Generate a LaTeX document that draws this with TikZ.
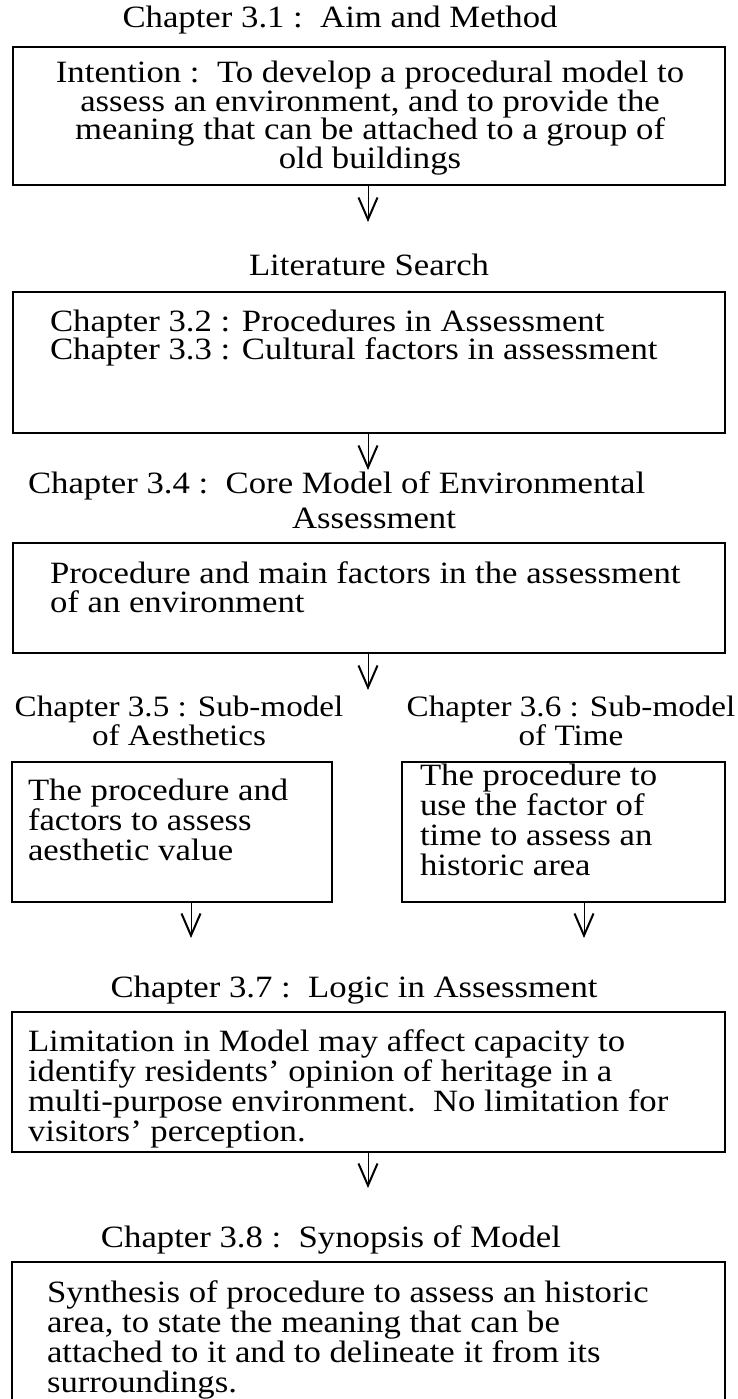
\documentclass[tikz,border=0pt]{standalone}
\usepackage{fontspec}
\setmainfont{Liberation Serif}[FakeStretch=1.12]
\usetikzlibrary{arrows.meta,calc}
\begin{document}
\begin{tikzpicture}[x=1pt,y=-1pt,
  every node/.style={inner sep=0pt, outer sep=0pt, font=\fontsize{31}{29.5}\selectfont},
  box/.style={draw, line width=1.5pt, anchor=north west},
  title/.style={anchor=base, align=center},
  subtitle/.style={anchor=base, align=center, font=\fontsize{29.6}{29.5}\selectfont},
  body/.style={anchor=base west, align=left},
  conn/.style={line width=1pt, -{Straight Barb[length=22pt,width=19pt,line width=2pt]}}]
\useasboundingbox (0,0) rectangle (737,1399);
\clip (0,0) rectangle (737,1399);
% titles (anchor = baseline of last line)
\node[title] (h1) at (340,28) {Chapter 3.1 :\ \ Aim and Method};
\node[title] (h2) at (369,275) {Literature Search};
\node[body] (h3) at (28,528) {Chapter 3.4 :\ \ Core Model of Environmental\\[5.5pt]\hspace*{264pt}Assessment};
\node[subtitle] (h4) at (179,745) {Chapter 3.5 : Sub-model\\[-1pt]of Aesthetics};
\node[subtitle] (h5) at (571,745) {Chapter 3.6 : Sub-model\\[-1pt]of Time};
\node[title] (h6) at (354,997) {Chapter 3.7 :\ \ Logic in Assessment};
\node[title] (h7) at (331,1247) {Chapter 3.8 :\ \ Synopsis of Model};
% boxes
\node[box, minimum width=712pt, minimum height=138pt] (b1) at (13,47) {};
\node[box, minimum width=712pt, minimum height=141pt] (b2) at (13,292) {};
\node[box, minimum width=712pt, minimum height=110pt] (b3) at (13,543) {};
\node[box, minimum width=320pt, minimum height=140pt] (b4) at (12,762) {};
\node[box, minimum width=323pt, minimum height=140pt] (b5) at (402,762) {};
\node[box, minimum width=713pt, minimum height=140pt] (b6) at (12,1012) {};
\node[box, minimum width=713pt, minimum height=160pt] (b7) at (12,1262) {};
% box texts (anchor = baseline of last line)
\node[title] (x1) at (370,168.5) {Intention :\ \ To develop a procedural model to\\[-1pt]assess an environment, and to provide the\\[-1pt]meaning that can be attached to a group of\\[-1pt]old buildings};
\node[body] (x2) at (50,359.5) {Chapter 3.2 : Procedures in Assessment\\[-1pt]Chapter 3.3 : Cultural factors in assessment};
\node[body] (x3) at (50,612) {Procedure and main factors in the assessment\\[-0.5pt]of an environment};
\node[body] (x4) at (28,860) {The procedure and\\[1pt]factors to assess\\aesthetic value};
\node[body] (x5) at (420,875) {The procedure to\\[0.5pt]use the factor of\\[0.5pt]time to assess an\\[0.5pt]historic area};
\node[body] (x6) at (28,1141) {Limitation in Model may affect capacity to\\[0.5pt]identify residents' opinion of heritage in a\\[0.5pt]multi-purpose environment.\ \ No limitation for\\[0.5pt]visitors' perception.};
\node[body] (x7) at (47,1392) {Synthesis of procedure to assess an historic\\[0.5pt]area, to state the meaning that can be\\[0.5pt]attached to it and to delineate it from its\\[0.5pt]surroundings.};
% arrow end points
\coordinate (e1) at (368,222);
\coordinate (e2) at (368,470);
\coordinate (e3) at (368,690);
\coordinate (e4) at (191,938);
\coordinate (e5) at (584,938);
\coordinate (e6) at (368,1188);
\draw[conn] (b1.south -| e1) -- (e1);
\draw[conn] (b2.south -| e2) -- (e2);
\draw[conn] (b3.south -| e3) -- (e3);
\draw[conn] (b4.south -| e4) -- (e4);
\draw[conn] (b5.south -| e5) -- (e5);
\draw[conn] (b6.south -| e6) -- (e6);
\end{tikzpicture}
\end{document}
